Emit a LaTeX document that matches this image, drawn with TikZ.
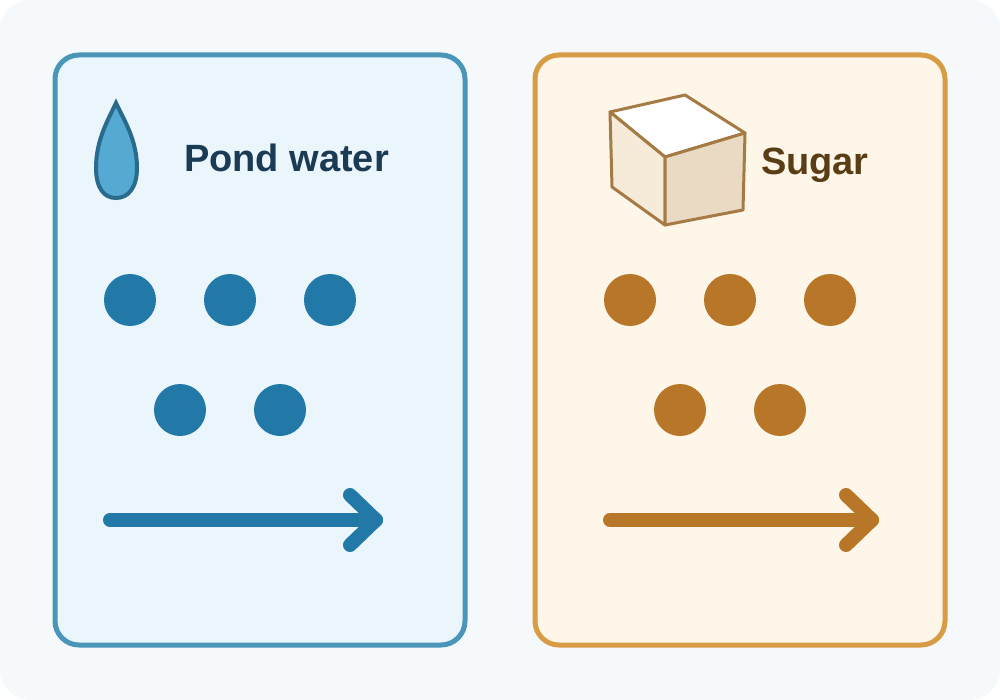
\documentclass[tikz,border=0pt]{standalone}
\usepackage{fontspec}
\setmainfont{Liberation Sans}
\definecolor{bgcol}{HTML}{F5F9FB}
\definecolor{waterline}{HTML}{4A96B9}
\definecolor{waterfill}{HTML}{EAF5FC}
\definecolor{waterdot}{HTML}{2279A8}
\definecolor{watertext}{HTML}{1B3B55}
\definecolor{dropfill}{HTML}{55AAD3}
\definecolor{dropline}{HTML}{2A6A8C}
\definecolor{sugarline}{HTML}{D89C45}
\definecolor{sugarfill}{HTML}{FEF7E9}
\definecolor{sugardot}{HTML}{B87628}
\definecolor{sugartext}{HTML}{5A3D14}
\definecolor{cubeline}{HTML}{A57A45}
\definecolor{cubefront}{HTML}{F6EAD8}
\definecolor{cubeside}{HTML}{E9DBC3}
\tikzset{
  panel/.style={line width=2.5pt,rounded corners=12pt},
  dot/.style={circle,inner sep=0pt,minimum size=26pt},
  flow/.style={line width=7pt,line cap=round,line join=round},
  title/.style={font=\bfseries\fontsize{19}{22}\selectfont,anchor=west}
}
\begin{document}
\begin{tikzpicture}[x=0.5pt,y=-0.5pt]
\useasboundingbox (0,0) rectangle (1000,700);
\fill[bgcol,rounded corners=15pt] (0,0) rectangle (1000,700);

% pond water panel
\draw[panel,draw=waterline,fill=waterfill] (55,55) rectangle (465,645);
\draw[line width=2pt,draw=dropline,fill=dropfill]
  (116,103) .. controls (124,120) and (137,140) .. (137,168)
  .. controls (137,188) and (128,198) .. (116,198)
  .. controls (104,198) and (96,188) .. (96,168)
  .. controls (96,140) and (108,120) .. (116,103) -- cycle;
\node[title,text=watertext] (pondlabel) at (177,158) {Pond water};
\foreach \x/\y [count=\i] in {130/300,230/300,330/300,180/410,280/410}
  \node[dot,fill=waterdot] (w\i) at (\x,\y) {};
\coordinate (wstart) at (110,520);
\coordinate (wend) at (376,520);
\draw[flow,waterdot] (wstart) -- (wend);
\draw[flow,waterdot] (350,495) -- (wend) -- (350,545);

% sugar panel
\draw[panel,draw=sugarline,fill=sugarfill] (535,55) rectangle (945,645);
\draw[line width=1.5pt,draw=cubeline,line join=round,fill=white]
  (610,112) -- (685,95) -- (745,133) -- (665,157) -- cycle;
\draw[line width=1.5pt,draw=cubeline,line join=round,fill=cubefront]
  (610,112) -- (665,157) -- (665,225) -- (612,187) -- cycle;
\draw[line width=1.5pt,draw=cubeline,line join=round,fill=cubeside]
  (665,157) -- (745,133) -- (743,210) -- (665,225) -- cycle;
\node[title,text=sugartext] (sugarlabel) at (754,165) {Sugar};
\foreach \x/\y [count=\i] in {630/300,730/300,830/300,680/410,780/410}
  \node[dot,fill=sugardot] (s\i) at (\x,\y) {};
\coordinate (sstart) at (610,520);
\coordinate (send) at (872,520);
\draw[flow,sugardot] (sstart) -- (send);
\draw[flow,sugardot] (846,495) -- (send) -- (846,545);
\end{tikzpicture}
\end{document}
